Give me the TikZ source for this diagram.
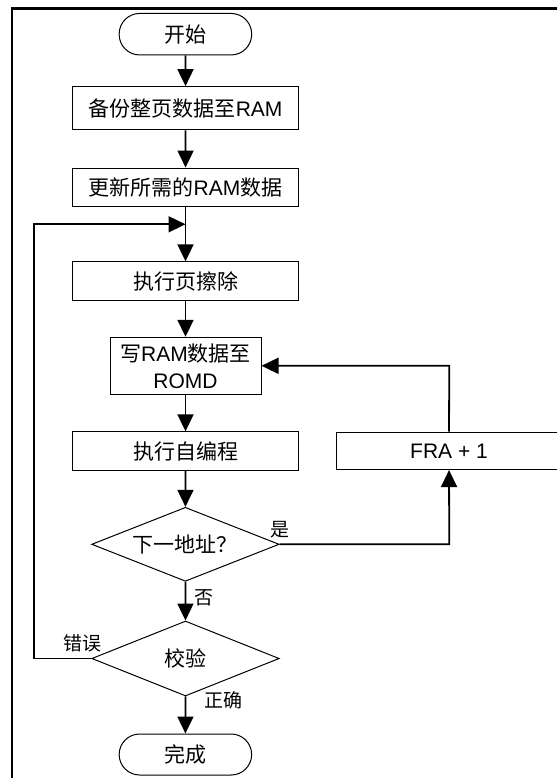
\documentclass[tikz,border=0pt]{standalone}
\usepackage{fontspec}
\setmainfont{Liberation Sans}
\newfontfamily\cjk{Noto Sans CJK SC}
\usetikzlibrary{arrows.meta,shapes.geometric}
\begin{document}
\begin{tikzpicture}[x=1pt,y=-1pt,
  txt/.style={font=\fontsize{21}{27}\selectfont},
  box/.style={draw, line width=1pt, minimum width=225.5pt, minimum height=38.3pt, inner sep=0pt, txt},
  term/.style={draw, line width=1pt, rounded corners=20.5pt, minimum width=132.5pt, minimum height=41.5pt, inner sep=0pt, txt},
  dec/.style={draw, line width=1pt, diamond, shape aspect=2.5, minimum width=187.5pt, minimum height=74pt, inner sep=0pt, txt},
  conn/.style={line width=1.8pt, -{Triangle[width=16pt,length=17pt]}},
  lbl/.style={inner sep=0pt, font=\fontsize{19}{22}\selectfont\cjk}
]
\useasboundingbox (0,0) rectangle (557,778);
\clip (0,0) rectangle (557,778);
\draw[line width=2.5pt] (12.2,800) -- (12.2,8.5) -- (600,8.5);

\node[term] (start) at (185.4,34.2) {\cjk 开始};
\node[box, minimum height=43.3pt] (b1) at (185.6,108.3) {{\cjk 备份整页数据至}RAM};
\node[box] (b2) at (185.5,187.2) {{\cjk 更新所需的}RAM{\cjk 数据}};
\node[box] (b3) at (185.5,281) {\cjk 执行页擦除};
\node[box, minimum width=151pt, minimum height=57pt, align=center] (b4) at (185.5,365.8) {{\cjk 写}RAM{\cjk 数据至}\\ROMD};
\node[box] (b5) at (185.5,451) {\cjk 执行自编程};
\node[box, minimum width=226pt, minimum height=37.5pt] (fra) at (449,450.8) {FRA + 1};
\node[dec] (d1) at (185.4,544.3) {\cjk 下一地址？};
\node[dec, minimum height=75pt] (d2) at (185.5,658.5) {\cjk 校验};
\node[term, minimum height=41pt] (end) at (185.4,754.5) {\cjk 完成};

\coordinate (jn) at (185.5,224.3);
\coordinate (lt) at (34,224.3);
\coordinate (lb) at (34,658.5);
\coordinate (rb) at (449.3,544.3);
\coordinate (rt) at (449.3,365.8);

\draw[conn] (start) -- (b1);
\draw[conn] (b1) -- (b2);
\draw[conn] (b2) -- (b3);
\draw[conn] (b3) -- (b4);
\draw[conn] (b4) -- (b5);
\draw[conn] (b5) -- (d1);
\draw[conn] (d1) -- (d2);
\draw[conn] (d2) -- (end);
\draw[conn] (d1.east) -- (rb) -- (fra.south);
\draw[conn] (fra.north) -- (rt) -- (b4.east);
\draw[conn] (d2.west) -- (lb) -- (lt) -- (jn);

\node[lbl] (lyes) at (279.5,530) {是};
\node[lbl] (lno) at (203.5,598) {否};
\node[lbl] (lerr) at (82,643) {错误};
\node[lbl] (lok) at (223,700) {正确};
\end{tikzpicture}
\end{document}
